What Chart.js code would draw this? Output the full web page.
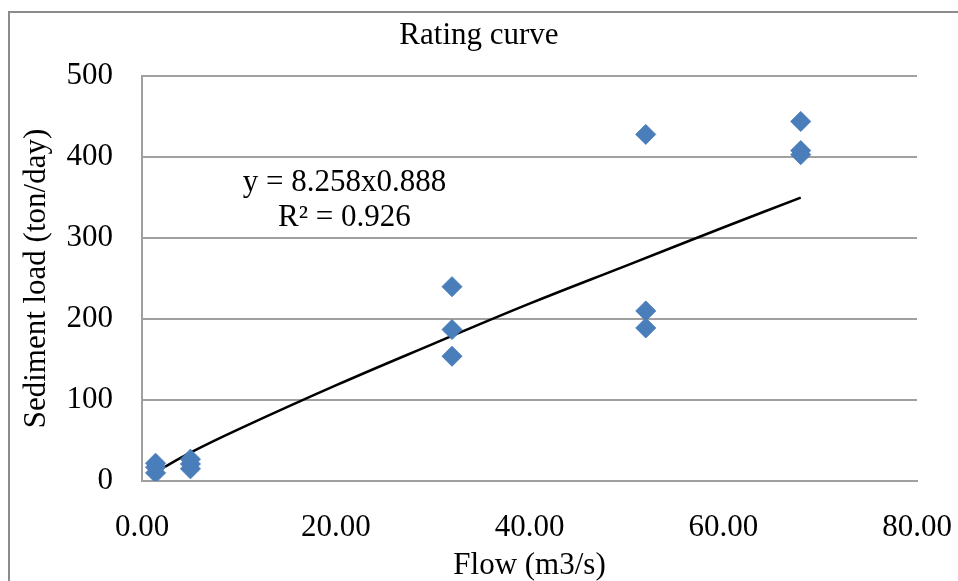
<!DOCTYPE html>
<html>
<head>
<meta charset="utf-8">
<title>Rating curve</title>
<script src="https://cdn.jsdelivr.net/npm/chart.js@4/dist/chart.umd.min.js"></script>
<style>
    html, body { margin: 0; padding: 0; background: #fff; overflow: hidden; }
    canvas { display: block; }
</style>
</head>
<body>
<canvas id="chart" width="958" height="581"></canvas>
<script>
// Observed points (flow in m3/s, sediment load in ton/day)
const flow = [1.4, 1.4, 1.4, 5.0, 5.0, 5.0, 32, 32, 32, 52, 52, 52, 68, 68, 68];
const load = [22, 17, 10, 27, 21, 15, 240, 187, 154, 428, 210, 189, 444, 408, 403];

// Power trendline
const trendX = [1.4, 5, 10, 20, 30, 40, 50, 60, 68];
const trendY = [11, 35, 64, 118, 169, 219, 266, 313, 350];

// Axis ticks
const xTicks = [0, 20, 40, 60, 80];
const yTicks = [0, 100, 200, 300, 400, 500];

// Equation label, anchored in data units
const eqLines = ['y = 8.258x0.888', 'R\u00b2 = 0.926'];
const eqAt = { x: 20.9, y: 368 };

const SERIF = '"Liberation Serif", "Times New Roman", serif';
const GRID = '#a0a0a0';

const framePlugin = {
    id: 'frame',
    beforeDraw(chart) {
        const ctx = chart.ctx;
        ctx.save();
        ctx.fillStyle = '#fff';
        ctx.fillRect(0, 0, chart.width, chart.height);
        ctx.strokeStyle = '#8c8c8c';
        ctx.lineWidth = 2;
        ctx.beginPath();
        ctx.moveTo(9, chart.height);
        ctx.lineTo(9, 12);
        ctx.lineTo(chart.width, 12);
        ctx.stroke();
        ctx.restore();
    }
};

const equationPlugin = {
    id: 'equation',
    afterDatasetsDraw(chart) {
        const ctx = chart.ctx;
        const px = chart.scales.x.getPixelForValue(eqAt.x);
        const py = chart.scales.y.getPixelForValue(eqAt.y);
        ctx.save();
        ctx.font = '31px ' + SERIF;
        ctx.fillStyle = '#000';
        ctx.textAlign = 'center';
        ctx.textBaseline = 'middle';
        eqLines.forEach((line, i) => ctx.fillText(line, px, py + i * 35));
        ctx.restore();
    }
};

new Chart(document.getElementById('chart'), {
    type: 'scatter',
    data: {
        datasets: [
            {
                label: 'Observed',
                data: flow.map((f, i) => ({ x: f, y: load[i] })),
                pointStyle: 'rectRot',
                pointRadius: 10,
                pointHoverRadius: 10,
                backgroundColor: '#4a7ebb',
                borderColor: '#4a7ebb',
                borderWidth: 1
            },
            {
                label: 'Power trend',
                type: 'line',
                data: trendX.map((f, i) => ({ x: f, y: trendY[i] })),
                borderColor: '#000',
                borderWidth: 2.5,
                pointRadius: 0,
                tension: 0.4,
                fill: false
            }
        ]
    },
    options: {
        responsive: false,
        animation: false,
        layout: { padding: { left: 20, right: 20, top: 0, bottom: 0 } },
        plugins: {
            legend: { display: false },
            tooltip: { enabled: false },
            title: {
                display: true,
                text: 'Rating curve',
                color: '#000',
                font: { family: SERIF, size: 31, weight: 'normal', lineHeight: 1.1 },
                padding: { top: 19, bottom: 23 }
            }
        },
        scales: {
            x: {
                type: 'linear',
                min: xTicks[0],
                max: xTicks[xTicks.length - 1],
                afterBuildTicks: s => { s.ticks = xTicks.map(v => ({ value: v })); },
                afterFit: s => {
                    s.height = 100;
                    s.paddingRight = 41;
                },
                grid: { display: false, drawTicks: false },
                border: { display: true, color: GRID, width: 2 },
                ticks: {
                    padding: 28,
                    color: '#000',
                    font: { family: SERIF, size: 31 },
                    maxRotation: 0,
                    callback: v => Number(v).toFixed(2)
                },
                title: {
                    display: true,
                    text: 'Flow (m3/s)',
                    color: '#000',
                    font: { family: SERIF, size: 31, lineHeight: 1.0 },
                    padding: 0
                }
            },
            y: {
                type: 'linear',
                min: yTicks[0],
                max: yTicks[yTicks.length - 1],
                afterBuildTicks: s => { s.ticks = yTicks.map(v => ({ value: v })); },
                afterFit: s => { s.width = 122; },
                grid: { color: GRID, lineWidth: 2, drawTicks: false },
                border: { display: true, color: GRID, width: 2 },
                ticks: {
                    padding: 29,
                    color: '#000',
                    font: { family: SERIF, size: 31 }
                },
                title: {
                    display: true,
                    text: 'Sediment load (ton/day)',
                    color: '#000',
                    font: { family: SERIF, size: 31, lineHeight: 1.1 },
                    padding: 0
                }
            }
        }
    },
    plugins: [framePlugin, equationPlugin]
});
</script>
</body>
</html>
